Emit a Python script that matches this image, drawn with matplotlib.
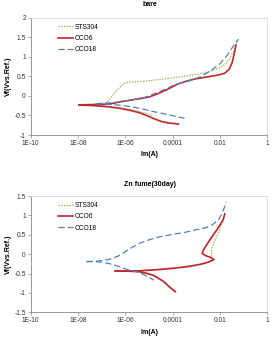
import numpy as np
import matplotlib
matplotlib.use('Agg')
import matplotlib.pyplot as plt

plt.rcParams['font.family'] = ['Liberation Sans', 'DejaVu Sans']

# ---- data: current (A) and potential (V) for each branch ----
# bare
bare_sts_an_i = [1.26e-8, 5.0e-8, 1.58e-7, 2.1e-7, 3.5e-7, 6.3e-7, 8.9e-7, 1.6e-6, 5.0e-6,
                 2.0e-5, 1.0e-4, 4.0e-4, 1.26e-3, 4.0e-3, 1.0e-2, 2.0e-2, 3.2e-2, 4.5e-2, 6.0e-2]
bare_sts_an_v = [-0.22, -0.21, -0.18, -0.10, 0.08, 0.24, 0.32, 0.35, 0.37,
                 0.41, 0.46, 0.51, 0.56, 0.63, 0.72, 0.85, 1.05, 1.25, 1.45]
bare_sts_ca_i = [1.26e-8, 5.0e-8, 2.0e-7, 6.3e-7, 2.0e-6, 5.0e-6, 1.0e-5, 1.4e-5]
bare_sts_ca_v = [-0.22, -0.24, -0.27, -0.31, -0.36, -0.42, -0.47, -0.50]

bare_c6_an_i = [1.1e-8, 3.2e-8, 1.0e-7, 2.5e-7, 6.3e-7, 1.6e-6, 3.2e-6, 1.0e-5, 2.5e-5, 6.3e-5,
                1.6e-4, 4.0e-4, 1.0e-3, 3.2e-3, 7.9e-3, 1.6e-2, 2.5e-2, 3.3e-2, 4.0e-2, 4.8e-2]
bare_c6_an_v = [-0.23, -0.225, -0.22, -0.20, -0.15, -0.11, -0.08, -0.03, 0.06, 0.17,
                0.30, 0.38, 0.44, 0.49, 0.53, 0.58, 0.68, 0.85, 1.05, 1.30]
bare_c6_ca_i = [1.1e-8, 5.0e-8, 2.0e-7, 6.3e-7, 1.6e-6, 4.0e-6, 7.9e-6, 1.6e-5, 3.2e-5, 6.3e-5,
                1.26e-4, 1.8e-4]
bare_c6_ca_v = [-0.23, -0.25, -0.28, -0.32, -0.37, -0.43, -0.50, -0.58, -0.65, -0.69, -0.71, -0.72]

bare_c18_an_i = [5.6e-8, 2.0e-7, 6.3e-7, 2.0e-6, 6.3e-6, 1.6e-5, 4.0e-5, 1.0e-4, 2.5e-4, 6.3e-4,
                 1.6e-3, 4.0e-3, 1.0e-2, 2.0e-2, 3.5e-2, 6.0e-2]
bare_c18_an_v = [-0.20, -0.18, -0.15, -0.10, -0.04, 0.05, 0.15, 0.26, 0.34, 0.40,
                 0.50, 0.64, 0.82, 1.03, 1.25, 1.45]
bare_c18_ca_i = [5.6e-8, 2.0e-7, 6.3e-7, 2.0e-6, 5.0e-6, 1.26e-5, 3.2e-5, 7.9e-5, 1.8e-4, 3.2e-4]
bare_c18_ca_v = [-0.20, -0.21, -0.24, -0.28, -0.33, -0.39, -0.44, -0.49, -0.54, -0.57]

# Zn fume (30 day)
zn_sts_an_i = [5.0e-7, 1.6e-6, 5.0e-6, 1.6e-5, 5.0e-5, 1.6e-4, 5.0e-4, 1.6e-3, 3.5e-3, 5.0e-3,
               4.5e-3, 4.5e-3, 5.6e-3, 7.9e-3, 1.1e-2, 1.4e-2, 1.6e-2]
zn_sts_an_v = [-0.43, -0.43, -0.42, -0.40, -0.37, -0.34, -0.30, -0.25, -0.20, -0.14,
               -0.05, 0.10, 0.30, 0.50, 0.72, 0.92, 1.04]
zn_sts_ca_i = [5.0e-7, 1.6e-6, 4.0e-6, 1.6e-5, 3.5e-5, 7.0e-5, 1.2e-4]
zn_sts_ca_v = [-0.43, -0.44, -0.46, -0.55, -0.68, -0.84, -0.95]

zn_c6_an_i = [3.7e-7, 1.26e-6, 4.0e-6, 1.26e-5, 4.0e-5, 1.26e-4, 4.7e-4, 1.6e-3, 3.5e-3, 5.6e-3,
              4.0e-3, 2.5e-3, 1.8e-3, 2.0e-3, 3.2e-3, 5.2e-3, 8.9e-3, 1.38e-2, 1.62e-2]
zn_c6_an_v = [-0.43, -0.44, -0.43, -0.41, -0.39, -0.36, -0.32, -0.26, -0.20, -0.14,
              -0.08, -0.04, 0.02, 0.10, 0.30, 0.49, 0.70, 0.88, 1.04]
zn_c6_ca_i = [3.7e-7, 1.26e-6, 3.8e-6, 7.9e-6, 1.6e-5, 2.5e-5, 4.3e-5, 7.9e-5, 1.32e-4]
zn_c6_ca_v = [-0.43, -0.44, -0.45, -0.49, -0.55, -0.62, -0.71, -0.86, -0.97]

zn_c18_an_i = [2.3e-8, 6.3e-8, 2.0e-7, 5.0e-7, 1.1e-6, 2.0e-6, 4.0e-6, 7.9e-6, 2.5e-5, 1.0e-4,
               3.2e-4, 1.0e-3, 2.5e-3, 5.0e-3, 8.9e-3, 1.26e-2, 1.9e-2]
zn_c18_an_v = [-0.19, -0.18, -0.14, -0.05, 0.08, 0.18, 0.28, 0.35, 0.44, 0.51,
               0.56, 0.63, 0.68, 0.76, 0.90, 1.05, 1.35]
zn_c18_ca_i = [2.3e-8, 7.9e-8, 2.0e-7, 5.5e-7, 1.26e-6, 3.8e-6, 9.0e-6, 1.6e-5]
zn_c18_ca_v = [-0.19, -0.20, -0.24, -0.32, -0.40, -0.47, -0.58, -0.67]

labels = ['STS304', 'CCO6', 'CCO18']
xticks = [1e-10, 1e-8, 1e-6, 1e-4, 1e-2, 1]
xticklabels = ['1E-10', '1E-08', '1E-06', '0.0001', '0.01', '1']

styles = [dict(color='#9BBB59', lw=0.9, dashes=(1.2, 1.0)),
          dict(color='#C0272D', lw=1.2),
          dict(color='#4F81BD', lw=0.9, dashes=(5, 2.5))]

fig = plt.figure(figsize=(2.72, 3.37), dpi=100)


def draw(ax, series, title, ylim, yticks, title_y, xlabel_y, leg_top):
    for (ai, av, ci, cv), lab, st in zip(series, labels, styles):
        ax.plot(ai, av, label=lab, **st)
        ax.plot(ci, cv, **st)
    ax.set_xscale('log')
    ax.set_xlim(1e-10, 1)
    ax.set_ylim(*ylim)
    ax.set_xticks(xticks)
    ax.set_xticklabels(xticklabels)
    ax.xaxis.set_minor_locator(matplotlib.ticker.NullLocator())
    ax.set_yticks(yticks)
    ax.set_yticklabels([('%g' % t) for t in yticks])
    ax.tick_params(labelsize=4.8, length=2, width=0.5, color='#888888',
                   labelcolor='#333333', pad=1.5)
    for s in ['left', 'bottom']:
        ax.spines[s].set_color('#888888')
        ax.spines[s].set_linewidth(0.6)
    for s in ['top', 'right']:
        ax.spines[s].set_color('#d9d9d9')
        ax.spines[s].set_linewidth(0.6)
    fig.text(0.55, title_y, title, ha='center', va='center', fontsize=5, fontweight='bold')
    fig.text(0.55, xlabel_y, 'Im(A)', ha='center', va='center', fontsize=5, fontweight='bold')
    ax.set_ylabel('Vf(Vvs.Ref.)', fontsize=5, fontweight='bold', labelpad=2)
    ax.legend(loc='upper left', bbox_to_anchor=(0.115, leg_top), frameon=False,
              fontsize=4.8, handlelength=2.3, handletextpad=0.2, labelspacing=0.65,
              borderaxespad=0, borderpad=0)


ax1 = fig.add_axes([0.113, 0.5994, 0.869, 0.348])
draw(ax1,
     [(bare_sts_an_i, bare_sts_an_v, bare_sts_ca_i, bare_sts_ca_v),
      (bare_c6_an_i, bare_c6_an_v, bare_c6_ca_i, bare_c6_ca_v),
      (bare_c18_an_i, bare_c18_an_v, bare_c18_ca_i, bare_c18_ca_v)],
     'bare', (-1, 2), [-1, -0.5, 0, 0.5, 1, 1.5, 2], 1 - 5 / 337, 1 - 155 / 337, 0.95)

ax2 = fig.add_axes([0.113, 0.0733, 0.869, 0.345])
draw(ax2,
     [(zn_sts_an_i, zn_sts_an_v, zn_sts_ca_i, zn_sts_ca_v),
      (zn_c6_an_i, zn_c6_an_v, zn_c6_ca_i, zn_c6_ca_v),
      (zn_c18_an_i, zn_c18_an_v, zn_c18_ca_i, zn_c18_ca_v)],
     'Zn fume(30day)', (-1.5, 1.5), [-1.5, -1, -0.5, 0, 0.5, 1, 1.5],
     1 - 184 / 337, 1 - 332 / 337, 0.95)

fig.savefig('out.png', dpi=100)
